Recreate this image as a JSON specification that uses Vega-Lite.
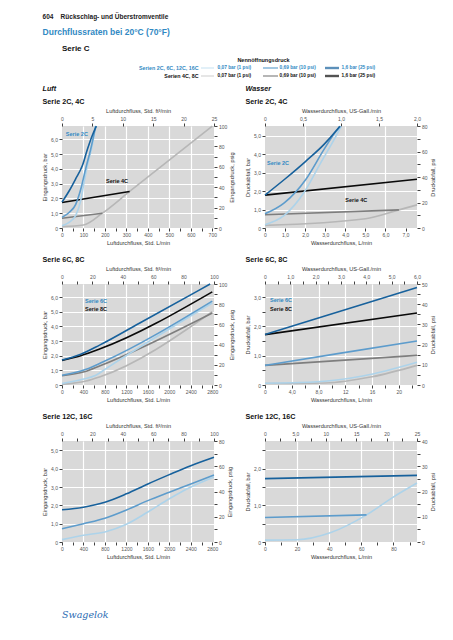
{
"$schema": "https://vega.github.io/schema/vega-lite/v6.json",
"padding": {"left": 42, "top": 14, "right": 4, "bottom": 4},
"title": {"text": "604\u00a0\u00a0\u00a0\u00a0Rückschlag- und Überstromventile", "subtitle": "Durchflussraten bei 20°C (70°F)", "anchor": "start", "frame": "bounds", "fontSize": 6.5, "fontWeight": "bold", "color": "#222222", "subtitleFontSize": 8.5, "subtitleFontWeight": "bold", "subtitleColor": "#3189c3", "subtitlePadding": 7, "offset": 9},
"spacing": 5,
"vconcat": [
{
 "width": 402, "height": 16,
 "view": {"fill": "#ffffff", "stroke": null},
 "title": {"text": "Serie C", "fontSize": 8, "offset": 4, "frame": "group"},
 "data": {"values": [
  {"grp": "Serien 2C, 6C, 12C, 16C", "p": "0,07 bar (1 psi)", "s": "b1", "lvl": 1},
  {"grp": "Serien 2C, 6C, 12C, 16C", "p": "0,69 bar (10 psi)", "s": "b2", "lvl": 2},
  {"grp": "Serien 2C, 6C, 12C, 16C", "p": "1,6 bar (25 psi)", "s": "b3", "lvl": 3},
  {"grp": "Serien 4C, 8C", "p": "0,07 bar (1 psi)", "s": "g1", "lvl": 1},
  {"grp": "Serien 4C, 8C", "p": "0,69 bar (10 psi)", "s": "g2", "lvl": 2},
  {"grp": "Serien 4C, 8C", "p": "1,6 bar (25 psi)", "s": "g3", "lvl": 3}
 ]},
 "encoding": {
  "x": {"field": "p", "type": "nominal", "scale": {"type": "point", "domain": ["0,07 bar (1 psi)", "0,69 bar (10 psi)", "1,6 bar (25 psi)"], "range": [139, 263], "padding": 0}, "axis": {"orient": "top", "title": "Nennöffnungsdruck", "labels": false, "ticks": false, "grid": false, "domain": false, "titleFontWeight": "bold", "titleFontSize": 5.5, "titleColor": "#111111", "titlePadding": 2}},
  "y": {"field": "grp", "type": "nominal", "scale": {"type": "point", "domain": ["Serien 2C, 6C, 12C, 16C", "Serien 4C, 8C"], "padding": 0.5}, "axis": null}
 },
 "layer": [
  {"transform": [{"filter": "datum.lvl == 1"}], "mark": {"type": "tick", "orient": "horizontal", "thickness": 1, "size": 13, "xOffset": 6.5},
   "encoding": {"color": {"field": "s", "type": "nominal", "scale": {"domain": ["g1","g2","g3","b1","b2","b3"], "range": ["#b7b7b7","#7e7e7e","#0a0a0a","#add3ea","#5d9ccc","#17619c"]}, "legend": null}}},
  {"transform": [{"filter": "datum.lvl == 2"}], "mark": {"type": "tick", "orient": "horizontal", "thickness": 1.6, "size": 15, "xOffset": 7.5},
   "encoding": {"color": {"field": "s", "type": "nominal", "scale": {"domain": ["g1","g2","g3","b1","b2","b3"], "range": ["#b7b7b7","#7e7e7e","#0a0a0a","#add3ea","#5d9ccc","#17619c"]}, "legend": null}}},
  {"transform": [{"filter": "datum.lvl == 3"}], "mark": {"type": "tick", "orient": "horizontal", "thickness": 2.4, "size": 14, "xOffset": 7},
   "encoding": {"color": {"field": "s", "type": "nominal", "scale": {"domain": ["g1","g2","g3","b1","b2","b3"], "range": ["#b7b7b7","#7e7e7e","#0a0a0a","#add3ea","#5d9ccc","#17619c"]}, "legend": null}}},
  {"mark": {"type": "text", "align": "left", "baseline": "middle", "dx": 16.5, "fontSize": 4.8, "fontWeight": "bold"},
   "encoding": {"text": {"field": "p"}, "color": {"field": "grp", "type": "nominal", "scale": {"domain": ["Serien 2C, 6C, 12C, 16C", "Serien 4C, 8C"], "range": ["#3189c3", "#111111"]}, "legend": null}}},
  {"transform": [{"filter": "datum.lvl == 1"}], "mark": {"type": "text", "align": "right", "baseline": "middle", "dx": -2.5, "fontSize": 5.3, "fontWeight": "bold"},
   "encoding": {"text": {"field": "grp"}, "color": {"field": "grp", "type": "nominal", "scale": {"domain": ["Serien 2C, 6C, 12C, 16C", "Serien 4C, 8C"], "range": ["#3189c3", "#111111"]}, "legend": null}}}
 ],
 "resolve": {"scale": {"color": "independent"}}
},
{
 "columns": 2,
 "bounds": "flush",
 "spacing": {"row": 56, "column": 51},
 "concat": [
 {
  "title": {"text": "Luft", "subtitle": "Serie 2C, 4C", "fontStyle": "italic", "fontSize": 7.2, "subtitleFontSize": 7.2, "subtitleFontWeight": "bold", "subtitleColor": "#111111", "subtitlePadding": 6, "offset": 3},
  "width": 152, "height": 102,
  "layer": [
   {"data": {"values": [
     {"s":"g1","x":0,"y":0.09},{"s":"g1","x":100,"y":0.2},{"s":"g1","x":188,"y":1.0},{"s":"g1","x":315,"y":2.47},{"s":"g1","x":700,"y":6.89},
     {"s":"g2","x":0,"y":0.66},{"s":"g2","x":188,"y":1.0},
     {"s":"g3","x":0,"y":1.72},{"s":"g3","x":315,"y":2.47},
     {"s":"b1","x":0,"y":0.15},{"s":"b1","x":33,"y":0.38},{"s":"b1","x":64,"y":0.85},{"s":"b1","x":87,"y":1.85},{"s":"b1","x":103,"y":3.1},{"s":"b1","x":118,"y":4.2},{"s":"b1","x":141,"y":5.6},{"s":"b1","x":156,"y":6.89},
     {"s":"b2","x":0,"y":0.72},{"s":"b2","x":33,"y":1.05},{"s":"b2","x":64,"y":1.6},{"s":"b2","x":87,"y":2.6},{"s":"b2","x":110,"y":4.0},{"s":"b2","x":134,"y":5.35},{"s":"b2","x":157,"y":6.89},
     {"s":"b3","x":0,"y":1.75},{"s":"b3","x":33,"y":2.5},{"s":"b3","x":64,"y":3.33},{"s":"b3","x":95,"y":4.22},{"s":"b3","x":118,"y":5.3},{"s":"b3","x":141,"y":6.25},{"s":"b3","x":160,"y":6.89}
    ]},
    "mark": {"type": "line"},
    "encoding": {
     "x": {"field": "x", "type": "quantitative", "scale": {"domain": [0, 708], "nice": false, "zero": false}, "axis": {"orient": "bottom", "title": "Luftdurchfluss, Std. L/min", "values": [0,50,100,150,200,250,300,350,400,450,500,550,600,650,700], "labelExpr": "datum.value % 100 != 0 ? '' : format(datum.value, 'd')", "gridOpacity": {"condition": {"test": "datum.value % 100 != 0 || datum.value == 0 || datum.value > 650", "value": 0}, "value": 1}}},
     "y": {"field": "y", "type": "quantitative", "scale": {"domain": [0, 6.895], "nice": false, "zero": false}, "axis": {"orient": "left", "title": "Eingangsdruck, bar", "values": [0,1,2,3,4,5,6], "labelExpr": "datum.value % 1 != 0 ? '' : datum.value == 0 ? '0' : replace(format(datum.value, '.1f'), '.', ',')", "gridOpacity": {"condition": {"test": "datum.value == 0", "value": 0}, "value": 1}}},
     "color": {"field": "s", "type": "nominal", "scale": {"domain": ["g1","g2","g3","b1","b2","b3"], "range": ["#b7b7b7","#7e7e7e","#0a0a0a","#add3ea","#5d9ccc","#17619c"]}, "legend": null}
    }},
   {"data": {"values": [{"t":"Serie 2C","x":18,"y":6.35,"k":"b"},{"t":"Serie 4C","x":205,"y":3.15,"k":"g"}]},
    "mark": {"type": "text", "align": "left", "baseline": "middle", "fontSize": 5.5, "fontWeight": "bold"},
    "encoding": {
     "x": {"field": "x", "type": "quantitative", "scale": {"domain": [0, 708], "nice": false, "zero": false}, "axis": null},
     "y": {"field": "y", "type": "quantitative", "scale": {"domain": [0, 6.895], "nice": false, "zero": false}, "axis": null},
     "text": {"field": "t"},
     "color": {"field": "k", "type": "nominal", "scale": {"domain": ["b","g"], "range": ["#3189c3","#111111"]}, "legend": null}
    }},
   {"data": {"values": [{"a": 0, "b": 0}]},
    "mark": {"type": "point", "opacity": 0},
    "encoding": {
     "x": {"field": "a", "type": "quantitative", "scale": {"domain": [0, 25], "nice": false, "zero": false}, "axis": {"orient": "top", "title": "Luftdurchfluss, Std. ft³/min", "values": [0,5,10,15,20,25], "labelExpr": "format(datum.value, 'd')", "grid": false}},
     "y": {"field": "b", "type": "quantitative", "scale": {"domain": [0, 100], "nice": false, "zero": false}, "axis": {"orient": "right", "title": "Eingangsdruck, psig", "values": [0,10,20,30,40,50,60,70,80,90,100], "labelExpr": "datum.value % 20 != 0 ? '' : format(datum.value, 'd')", "grid": false, "titleAngle": 270, "titleBaseline": "top"}}
    }}
  ],
  "resolve": {"scale": {"x": "independent", "y": "independent", "color": "independent"}, "axis": {"x": "independent", "y": "independent"}}
 },
 {
  "title": {"text": "Wasser", "subtitle": "Serie 2C, 4C", "fontStyle": "italic", "fontSize": 7.2, "subtitleFontSize": 7.2, "subtitleFontWeight": "bold", "subtitleColor": "#111111", "subtitlePadding": 6, "offset": 3},
  "width": 152, "height": 102,
  "layer": [
   {"data": {"values": [
     {"s":"g1","x":0,"y":0.14},{"s":"g1","x":5.0,"y":0.5},{"s":"g1","x":6.67,"y":0.98},{"s":"g1","x":7.57,"y":1.25},
     {"s":"g2","x":0,"y":0.72},{"s":"g2","x":6.67,"y":0.98},
     {"s":"g3","x":0,"y":1.78},{"s":"g3","x":7.57,"y":2.64},
     {"s":"b1","x":0,"y":0.18},{"s":"b1","x":0.96,"y":0.68},{"s":"b1","x":1.95,"y":1.93},{"s":"b1","x":2.78,"y":3.53},{"s":"b1","x":3.44,"y":4.78},{"s":"b1","x":3.8,"y":5.5},
     {"s":"b2","x":0,"y":0.77},{"s":"b2","x":0.96,"y":1.36},{"s":"b2","x":2.04,"y":2.64},{"s":"b2","x":2.94,"y":4.25},{"s":"b2","x":3.52,"y":5.2},{"s":"b2","x":3.76,"y":5.5},
     {"s":"b3","x":0,"y":1.78},{"s":"b3","x":1.04,"y":2.69},{"s":"b3","x":2.04,"y":3.62},{"s":"b3","x":2.94,"y":4.52},{"s":"b3","x":3.52,"y":5.23},{"s":"b3","x":3.72,"y":5.5}
    ]},
    "mark": {"type": "line"},
    "encoding": {
     "x": {"field": "x", "type": "quantitative", "scale": {"domain": [0, 7.57], "nice": false, "zero": false}, "axis": {"orient": "bottom", "title": "Wasserdurchfluss, L/min", "values": [0,1,2,3,4,5,6,7], "labelExpr": "datum.value == 0 ? '0' : replace(format(datum.value, '.1f'), '.', ',')", "gridOpacity": {"condition": {"test": "datum.value % 2 != 0 || datum.value == 0", "value": 0}, "value": 1}}},
     "y": {"field": "y", "type": "quantitative", "scale": {"domain": [0, 5.516], "nice": false, "zero": false}, "axis": {"orient": "left", "title": "Druckabfall, bar", "values": [0,1,2,3,4,5], "labelExpr": "datum.value % 1 != 0 ? '' : datum.value == 0 ? '0' : replace(format(datum.value, '.1f'), '.', ',')", "gridOpacity": {"condition": {"test": "datum.value == 0", "value": 0}, "value": 1}}},
     "color": {"field": "s", "type": "nominal", "scale": {"domain": ["g1","g2","g3","b1","b2","b3"], "range": ["#b7b7b7","#7e7e7e","#0a0a0a","#add3ea","#5d9ccc","#17619c"]}, "legend": null}
    }},
   {"data": {"values": [{"t":"Serie 2C","x":0.1,"y":3.5,"k":"b"},{"t":"Serie 4C","x":4.0,"y":1.52,"k":"g"}]},
    "mark": {"type": "text", "align": "left", "baseline": "middle", "fontSize": 5.5, "fontWeight": "bold"},
    "encoding": {
     "x": {"field": "x", "type": "quantitative", "scale": {"domain": [0, 7.57], "nice": false, "zero": false}, "axis": null},
     "y": {"field": "y", "type": "quantitative", "scale": {"domain": [0, 5.516], "nice": false, "zero": false}, "axis": null},
     "text": {"field": "t"},
     "color": {"field": "k", "type": "nominal", "scale": {"domain": ["b","g"], "range": ["#3189c3","#111111"]}, "legend": null}
    }},
   {"data": {"values": [{"a": 0, "b": 0}]},
    "mark": {"type": "point", "opacity": 0},
    "encoding": {
     "x": {"field": "a", "type": "quantitative", "scale": {"domain": [0, 2], "nice": false, "zero": false}, "axis": {"orient": "top", "title": "Wasserdurchfluss, US-Gall./min", "values": [0,0.5,1,1.5,2], "labelExpr": "datum.value == 0 ? '0' : replace(format(datum.value, '.1f'), '.', ',')", "grid": false}},
     "y": {"field": "b", "type": "quantitative", "scale": {"domain": [0, 80], "nice": false, "zero": false}, "axis": {"orient": "right", "title": "Druckabfall, psi", "values": [0,10,20,30,40,50,60,70,80], "labelExpr": "datum.value % 20 != 0 ? '' : format(datum.value, 'd')", "grid": false, "titleAngle": 270, "titleBaseline": "top"}}
    }}
  ],
  "resolve": {"scale": {"x": "independent", "y": "independent", "color": "independent"}, "axis": {"x": "independent", "y": "independent"}}
 },
 {
  "title": {"text": "Serie 6C, 8C", "fontSize": 7.2, "offset": 3},
  "width": 152, "height": 101,
  "layer": [
   {"data": {"values": [
     {"s":"g1","x":0,"y":0.04},{"s":"g1","x":450,"y":0.27},{"s":"g1","x":700,"y":0.55},{"s":"g1","x":2800,"y":5.0},
     {"s":"g2","x":0,"y":0.63},{"s":"g2","x":415,"y":0.9},{"s":"g2","x":700,"y":1.3},{"s":"g2","x":2800,"y":4.92},
     {"s":"g3","x":0,"y":1.68},{"s":"g3","x":350,"y":2.0},{"s":"g3","x":700,"y":2.45},{"s":"g3","x":2800,"y":6.36},
     {"s":"b1","x":0,"y":0.1},{"s":"b1","x":380,"y":0.39},{"s":"b1","x":630,"y":0.66},{"s":"b1","x":820,"y":1.12},{"s":"b1","x":2800,"y":5.6},
     {"s":"b2","x":0,"y":0.66},{"s":"b2","x":450,"y":1.07},{"s":"b2","x":760,"y":1.57},{"s":"b2","x":2800,"y":5.73},
     {"s":"b3","x":0,"y":1.7},{"s":"b3","x":350,"y":2.1},{"s":"b3","x":700,"y":2.72},{"s":"b3","x":1500,"y":4.34},{"s":"b3","x":2760,"y":6.89}
    ]},
    "mark": {"type": "line"},
    "encoding": {
     "x": {"field": "x", "type": "quantitative", "scale": {"domain": [0, 2832], "nice": false, "zero": false}, "axis": {"orient": "bottom", "title": "Luftdurchfluss, Std. L/min", "values": [0,200,400,600,800,1000,1200,1400,1600,1800,2000,2200,2400,2600,2800], "labelExpr": "datum.value % 400 != 0 ? '' : format(datum.value, 'd')", "gridOpacity": {"condition": {"test": "datum.value % 400 != 0 || datum.value == 0 || datum.value > 2500", "value": 0}, "value": 1}}},
     "y": {"field": "y", "type": "quantitative", "scale": {"domain": [0, 6.895], "nice": false, "zero": false}, "axis": {"orient": "left", "title": "Eingangsdruck, bar", "values": [0,1,2,3,4,5,6], "labelExpr": "datum.value % 1 != 0 ? '' : datum.value == 0 ? '0' : replace(format(datum.value, '.1f'), '.', ',')", "gridOpacity": {"condition": {"test": "datum.value == 0", "value": 0}, "value": 1}}},
     "color": {"field": "s", "type": "nominal", "scale": {"domain": ["g1","g2","g3","b1","b2","b3"], "range": ["#b7b7b7","#7e7e7e","#0a0a0a","#add3ea","#5d9ccc","#17619c"]}, "legend": null}
    }},
   {"data": {"values": [{"t":"Serie 6C","x":430,"y":5.75,"k":"b"},{"t":"Serie 8C","x":430,"y":5.18,"k":"g"}]},
    "mark": {"type": "text", "align": "left", "baseline": "middle", "fontSize": 5.5, "fontWeight": "bold"},
    "encoding": {
     "x": {"field": "x", "type": "quantitative", "scale": {"domain": [0, 2832], "nice": false, "zero": false}, "axis": null},
     "y": {"field": "y", "type": "quantitative", "scale": {"domain": [0, 6.895], "nice": false, "zero": false}, "axis": null},
     "text": {"field": "t"},
     "color": {"field": "k", "type": "nominal", "scale": {"domain": ["b","g"], "range": ["#3189c3","#111111"]}, "legend": null}
    }},
   {"data": {"values": [{"a": 0, "b": 0}]},
    "mark": {"type": "point", "opacity": 0},
    "encoding": {
     "x": {"field": "a", "type": "quantitative", "scale": {"domain": [0, 100], "nice": false, "zero": false}, "axis": {"orient": "top", "title": "Luftdurchfluss, Std. ft³/min", "values": [0,10,20,30,40,50,60,70,80,90,100], "labelExpr": "datum.value % 20 != 0 ? '' : format(datum.value, 'd')", "grid": false}},
     "y": {"field": "b", "type": "quantitative", "scale": {"domain": [0, 100], "nice": false, "zero": false}, "axis": {"orient": "right", "title": "Eingangsdruck, psig", "values": [0,10,20,30,40,50,60,70,80,90,100], "labelExpr": "datum.value % 20 != 0 ? '' : format(datum.value, 'd')", "grid": false, "titleAngle": 270, "titleBaseline": "top"}}
    }}
  ],
  "resolve": {"scale": {"x": "independent", "y": "independent", "color": "independent"}, "axis": {"x": "independent", "y": "independent"}}
 },
 {
  "title": {"text": "Serie 6C, 8C", "fontSize": 7.2, "offset": 3},
  "width": 152, "height": 101,
  "layer": [
   {"data": {"values": [
     {"s":"g1","x":0,"y":0.05},{"s":"g1","x":9,"y":0.07},{"s":"g1","x":16,"y":0.28},{"s":"g1","x":22.71,"y":0.67},
     {"s":"g2","x":0,"y":0.67},{"s":"g2","x":22.71,"y":1.01},
     {"s":"g3","x":0,"y":1.72},{"s":"g3","x":22.71,"y":2.46},
     {"s":"b1","x":0,"y":0.06},{"s":"b1","x":7.2,"y":0.1},{"s":"b1","x":14.6,"y":0.31},{"s":"b1","x":22.71,"y":0.78},
     {"s":"b2","x":0,"y":0.67},{"s":"b2","x":11.1,"y":1.08},{"s":"b2","x":22.71,"y":1.5},
     {"s":"b3","x":0,"y":1.72},{"s":"b3","x":22.71,"y":3.33}
    ]},
    "mark": {"type": "line"},
    "encoding": {
     "x": {"field": "x", "type": "quantitative", "scale": {"domain": [0, 22.71], "nice": false, "zero": false}, "axis": {"orient": "bottom", "title": "Wasserdurchfluss, L/min", "values": [0,2,4,6,8,10,12,14,16,18,20,22], "labelExpr": "datum.value % 4 != 0 ? '' : datum.value == 0 ? '0' : datum.value < 10 ? replace(format(datum.value, '.1f'), '.', ',') : format(datum.value, 'd')", "gridOpacity": {"condition": {"test": "datum.value % 4 != 0 || datum.value == 0", "value": 0}, "value": 1}}},
     "y": {"field": "y", "type": "quantitative", "scale": {"domain": [0, 3.447], "nice": false, "zero": false}, "axis": {"orient": "left", "title": "Druckabfall, bar", "values": [0,0.5,1,1.5,2,2.5,3], "labelExpr": "datum.value % 1 != 0 ? '' : datum.value == 0 ? '0' : replace(format(datum.value, '.1f'), '.', ',')", "gridOpacity": {"condition": {"test": "datum.value % 1 != 0 || datum.value == 0", "value": 0}, "value": 1}}},
     "color": {"field": "s", "type": "nominal", "scale": {"domain": ["g1","g2","g3","b1","b2","b3"], "range": ["#b7b7b7","#7e7e7e","#0a0a0a","#add3ea","#5d9ccc","#17619c"]}, "legend": null}
    }},
   {"data": {"values": [{"t":"Serie 6C","x":0.75,"y":2.89,"k":"b"},{"t":"Serie 8C","x":0.75,"y":2.6,"k":"g"}]},
    "mark": {"type": "text", "align": "left", "baseline": "middle", "fontSize": 5.5, "fontWeight": "bold"},
    "encoding": {
     "x": {"field": "x", "type": "quantitative", "scale": {"domain": [0, 22.71], "nice": false, "zero": false}, "axis": null},
     "y": {"field": "y", "type": "quantitative", "scale": {"domain": [0, 3.447], "nice": false, "zero": false}, "axis": null},
     "text": {"field": "t"},
     "color": {"field": "k", "type": "nominal", "scale": {"domain": ["b","g"], "range": ["#3189c3","#111111"]}, "legend": null}
    }},
   {"data": {"values": [{"a": 0, "b": 0}]},
    "mark": {"type": "point", "opacity": 0},
    "encoding": {
     "x": {"field": "a", "type": "quantitative", "scale": {"domain": [0, 6], "nice": false, "zero": false}, "axis": {"orient": "top", "title": "Wasserdurchfluss, US-Gall./min", "values": [0,0.5,1,1.5,2,2.5,3,3.5,4,4.5,5,5.5,6], "labelExpr": "datum.value % 1 != 0 ? '' : datum.value == 0 ? '0' : replace(format(datum.value, '.1f'), '.', ',')", "grid": false}},
     "y": {"field": "b", "type": "quantitative", "scale": {"domain": [0, 50], "nice": false, "zero": false}, "axis": {"orient": "right", "title": "Druckabfall, psi", "values": [0,5,10,15,20,25,30,35,40,45,50], "labelExpr": "datum.value % 10 != 0 ? '' : format(datum.value, 'd')", "grid": false, "titleAngle": 270, "titleBaseline": "top"}}
    }}
  ],
  "resolve": {"scale": {"x": "independent", "y": "independent", "color": "independent"}, "axis": {"x": "independent", "y": "independent"}}
 },
 {
  "title": {"text": "Serie 12C, 16C", "fontSize": 7.2, "offset": 3},
  "width": 152, "height": 101,
  "layer": [
   {"data": {"values": [
     {"s":"b1","x":0,"y":0.13},{"s":"b1","x":400,"y":0.37},{"s":"b1","x":800,"y":0.55},{"s":"b1","x":1200,"y":0.97},{"s":"b1","x":1600,"y":1.64},{"s":"b1","x":2000,"y":2.36},{"s":"b1","x":2400,"y":3.0},{"s":"b1","x":2832,"y":3.55},
     {"s":"b2","x":0,"y":0.72},{"s":"b2","x":400,"y":1.0},{"s":"b2","x":800,"y":1.3},{"s":"b2","x":1200,"y":1.75},{"s":"b2","x":1600,"y":2.26},{"s":"b2","x":2000,"y":2.72},{"s":"b2","x":2400,"y":3.17},{"s":"b2","x":2832,"y":3.66},
     {"s":"b3","x":0,"y":1.76},{"s":"b3","x":400,"y":1.9},{"s":"b3","x":800,"y":2.17},{"s":"b3","x":1200,"y":2.63},{"s":"b3","x":1600,"y":3.17},{"s":"b3","x":2000,"y":3.68},{"s":"b3","x":2400,"y":4.17},{"s":"b3","x":2832,"y":4.63}
    ]},
    "mark": {"type": "line"},
    "encoding": {
     "x": {"field": "x", "type": "quantitative", "scale": {"domain": [0, 2832], "nice": false, "zero": false}, "axis": {"orient": "bottom", "title": "Luftdurchfluss, Std. L/min", "values": [0,200,400,600,800,1000,1200,1400,1600,1800,2000,2200,2400,2600,2800], "labelExpr": "datum.value % 400 != 0 ? '' : format(datum.value, 'd')", "gridOpacity": {"condition": {"test": "datum.value % 400 != 0 || datum.value == 0 || datum.value > 2500", "value": 0}, "value": 1}}},
     "y": {"field": "y", "type": "quantitative", "scale": {"domain": [0, 5.516], "nice": false, "zero": false}, "axis": {"orient": "left", "title": "Eingangsdruck, bar", "values": [0,1,2,3,4,5], "labelExpr": "datum.value % 1 != 0 ? '' : datum.value == 0 ? '0' : replace(format(datum.value, '.1f'), '.', ',')", "gridOpacity": {"condition": {"test": "datum.value == 0", "value": 0}, "value": 1}}},
     "color": {"field": "s", "type": "nominal", "scale": {"domain": ["g1","g2","g3","b1","b2","b3"], "range": ["#b7b7b7","#7e7e7e","#0a0a0a","#add3ea","#5d9ccc","#17619c"]}, "legend": null}
    }},
   {"data": {"values": [{"a": 0, "b": 0}]},
    "mark": {"type": "point", "opacity": 0},
    "encoding": {
     "x": {"field": "a", "type": "quantitative", "scale": {"domain": [0, 100], "nice": false, "zero": false}, "axis": {"orient": "top", "title": "Luftdurchfluss, Std. ft³/min", "values": [0,10,20,30,40,50,60,70,80,90,100], "labelExpr": "datum.value % 20 != 0 ? '' : format(datum.value, 'd')", "grid": false}},
     "y": {"field": "b", "type": "quantitative", "scale": {"domain": [0, 80], "nice": false, "zero": false}, "axis": {"orient": "right", "title": "Eingangsdruck, psig", "values": [0,10,20,30,40,50,60,70,80], "labelExpr": "datum.value % 20 != 0 ? '' : format(datum.value, 'd')", "grid": false, "titleAngle": 270, "titleBaseline": "top"}}
    }}
  ],
  "resolve": {"scale": {"x": "independent", "y": "independent", "color": "independent"}, "axis": {"x": "independent", "y": "independent"}}
 },
 {
  "title": {"text": "Serie 12C, 16C", "fontSize": 7.2, "offset": 3},
  "width": 152, "height": 101,
  "layer": [
   {"data": {"values": [
     {"s":"b1","x":0,"y":0.05},{"s":"b1","x":20,"y":0.06},{"s":"b1","x":40.6,"y":0.25},{"s":"b1","x":63.2,"y":0.74},{"s":"b1","x":79.6,"y":1.22},{"s":"b1","x":94.64,"y":1.61},
     {"s":"b2","x":0,"y":0.67},{"s":"b2","x":63.2,"y":0.74},
     {"s":"b3","x":0,"y":1.73},{"s":"b3","x":94.64,"y":1.82}
    ]},
    "mark": {"type": "line"},
    "encoding": {
     "x": {"field": "x", "type": "quantitative", "scale": {"domain": [0, 94.64], "nice": false, "zero": false}, "axis": {"orient": "bottom", "title": "Wasserdurchfluss, L/min", "values": [0,10,20,30,40,50,60,70,80,90], "labelExpr": "datum.value % 20 != 0 ? '' : format(datum.value, 'd')", "gridOpacity": {"condition": {"test": "datum.value % 20 != 0 || datum.value == 0", "value": 0}, "value": 1}}},
     "y": {"field": "y", "type": "quantitative", "scale": {"domain": [0, 2.758], "nice": false, "zero": false}, "axis": {"orient": "left", "title": "Druckabfall, bar", "values": [0,0.5,1,1.5,2,2.5], "labelExpr": "datum.value % 1 != 0 ? '' : datum.value == 0 ? '0' : replace(format(datum.value, '.1f'), '.', ',')", "gridOpacity": {"condition": {"test": "datum.value == 0", "value": 0}, "value": 1}}},
     "color": {"field": "s", "type": "nominal", "scale": {"domain": ["g1","g2","g3","b1","b2","b3"], "range": ["#b7b7b7","#7e7e7e","#0a0a0a","#add3ea","#5d9ccc","#17619c"]}, "legend": null}
    }},
   {"data": {"values": [{"a": 0, "b": 0}]},
    "mark": {"type": "point", "opacity": 0},
    "encoding": {
     "x": {"field": "a", "type": "quantitative", "scale": {"domain": [0, 25], "nice": false, "zero": false}, "axis": {"orient": "top", "title": "Wasserdurchfluss, US-Gall./min", "values": [0,2.5,5,7.5,10,12.5,15,17.5,20,22.5,25], "labelExpr": "datum.value % 5 != 0 ? '' : datum.value == 0 ? '0' : datum.value < 10 ? replace(format(datum.value, '.1f'), '.', ',') : format(datum.value, 'd')", "grid": false}},
     "y": {"field": "b", "type": "quantitative", "scale": {"domain": [0, 40], "nice": false, "zero": false}, "axis": {"orient": "right", "title": "Druckabfall, psi", "values": [0,5,10,15,20,25,30,35,40], "labelExpr": "datum.value % 10 != 0 ? '' : format(datum.value, 'd')", "grid": false, "titleAngle": 270, "titleBaseline": "top"}}
    }}
  ],
  "resolve": {"scale": {"x": "independent", "y": "independent", "color": "independent"}, "axis": {"x": "independent", "y": "independent"}}
 }
 ]
},
{
 "width": 40, "height": 44,
 "view": {"fill": "#ffffff", "stroke": null},
 "title": {"text": "Swagelok", "orient": "bottom", "anchor": "start", "frame": "group", "font": "DejaVu Serif", "fontStyle": "italic", "fontWeight": "normal", "fontSize": 9.5, "color": "#2b6cb3", "offset": 0},
 "data": {"values": [{"a": 0}]},
 "mark": {"type": "point", "opacity": 0},
 "encoding": {}
}
],
"config": {
 "font": "Liberation Sans",
 "background": "#ffffff",
 "view": {"fill": "#d9d9d9", "stroke": null},
 "axis": {"domain": false, "tickColor": "#111111", "tickSize": 3, "tickWidth": 0.8, "labelFontSize": 5, "labelColor": "#555555", "labelPadding": 1.5, "labelFlush": false, "labelOverlap": false, "titleFontSize": 5.6, "titleFontWeight": "normal", "titleColor": "#333333", "titlePadding": 3, "gridColor": "#ffffff", "gridWidth": 1.2},
 "line": {"strokeWidth": 1.6, "interpolate": "monotone"},
 "title": {"anchor": "start", "fontWeight": "bold", "color": "#111111"}
}
}
